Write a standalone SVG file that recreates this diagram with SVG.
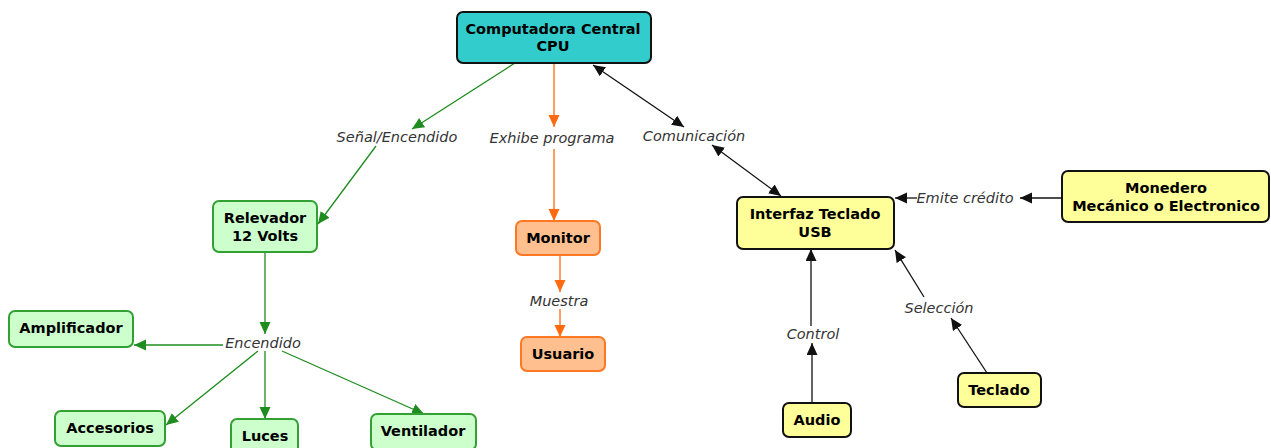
<svg xmlns="http://www.w3.org/2000/svg" width="1271" height="448" viewBox="0 0 1271 448">
<style>
.n{font-family:"DejaVu Sans",Verdana,sans-serif;font-weight:bold;font-size:14.5px;fill:#000;text-anchor:middle}
.l{font-family:"DejaVu Sans",Verdana,sans-serif;font-style:italic;font-size:14.5px;fill:#333;text-anchor:middle}
.cpu{fill:#33CCCC;stroke:#111;stroke-width:2}
.g{fill:#CCFFCC;stroke:#33A033;stroke-width:2}
.o{fill:#FFBF8F;stroke:#FF7722;stroke-width:2}
.y{fill:#FFFF99;stroke:#111;stroke-width:2}
.cg{stroke:#1E8C1E;stroke-width:1.3;fill:none}
.co{stroke:#FF6A10;stroke-width:1.3;fill:none}
.ck{stroke:#111;stroke-width:1.3;fill:none}
</style>
<defs>
<marker id="ag" markerUnits="userSpaceOnUse" markerWidth="13" markerHeight="12" refX="12" refY="5.5" orient="auto"><path d="M0,0 L12,5.5 L0,11 z" fill="#1E8C1E"/></marker>
<marker id="ao" markerUnits="userSpaceOnUse" markerWidth="13" markerHeight="12" refX="12" refY="5.5" orient="auto"><path d="M0,0 L12,5.5 L0,11 z" fill="#FF6A10"/></marker>
<marker id="ak" markerUnits="userSpaceOnUse" markerWidth="13" markerHeight="12" refX="12" refY="5.5" orient="auto"><path d="M0,0 L12,5.5 L0,11 z" fill="#111"/></marker>
<marker id="aks" markerUnits="userSpaceOnUse" markerWidth="13" markerHeight="12" refX="12" refY="5.5" orient="auto-start-reverse"><path d="M0,0 L12,5.5 L0,11 z" fill="#111"/></marker>
</defs>
<rect width="1271" height="448" fill="#fff"/>
<g id="connectors">
<line class="cg" x1="515" y1="63" x2="412" y2="129" marker-end="url(#ag)"/>
<line class="cg" x1="376" y1="146" x2="318" y2="224" marker-end="url(#ag)"/>
<line class="co" x1="554" y1="63" x2="554" y2="127" marker-end="url(#ao)"/>
<line class="co" x1="554" y1="149" x2="554" y2="221" marker-end="url(#ao)"/>
<line class="ck" x1="593" y1="65" x2="684" y2="127" marker-start="url(#aks)" marker-end="url(#aks)"/>
<line class="ck" x1="712" y1="145" x2="781" y2="196" marker-start="url(#aks)" marker-end="url(#aks)"/>
<line class="cg" x1="265" y1="252" x2="265" y2="334" marker-end="url(#ag)"/>
<line class="cg" x1="223" y1="345" x2="134" y2="345" marker-end="url(#ag)"/>
<line class="cg" x1="258" y1="351" x2="166" y2="425" marker-end="url(#ag)"/>
<line class="cg" x1="265" y1="351" x2="265" y2="419" marker-end="url(#ag)"/>
<line class="cg" x1="282" y1="351" x2="424" y2="414" marker-end="url(#ag)"/>
<line class="co" x1="560" y1="255" x2="560" y2="292" marker-end="url(#ao)"/>
<line class="co" x1="560" y1="309" x2="560" y2="337" marker-end="url(#ao)"/>
<line class="ck" x1="1062" y1="198" x2="1020" y2="198" marker-end="url(#ak)"/>
<line class="ck" x1="917" y1="198" x2="895" y2="198" marker-end="url(#ak)"/>
<line class="ck" x1="812" y1="403" x2="812" y2="343" marker-end="url(#ak)"/>
<line class="ck" x1="811" y1="326" x2="811" y2="249" marker-end="url(#ak)"/>
<line class="ck" x1="987" y1="373" x2="951" y2="318" marker-end="url(#ak)"/>
<line class="ck" x1="924" y1="297" x2="895" y2="250" marker-end="url(#ak)"/>
<text class="l" x="397" y="142">Señal/Encendido</text>
<text class="l" x="552" y="143">Exhibe programa</text>
<text class="l" x="694" y="141">Comunicación</text>
<text class="l" x="263" y="348">Encendido</text>
<text class="l" x="559" y="306">Muestra</text>
<text class="l" x="965" y="203">Emite crédito</text>
<text class="l" x="813" y="339">Control</text>
<text class="l" x="939" y="313">Selección</text>
</g>
<g id="cpu"><rect class="cpu" x="457" y="12" width="194" height="51" rx="6"/><text class="n" x="553" y="34">Computadora Central</text><text class="n" x="553" y="51">CPU</text></g>
<g id="relevador"><rect class="g" x="213" y="201" width="104" height="51" rx="6"/><text class="n" x="265" y="223">Relevador</text><text class="n" x="265" y="241">12 Volts</text></g>
<g id="amplificador"><rect class="g" x="9" y="311" width="124" height="36" rx="6"/><text class="n" x="71" y="333">Amplificador</text></g>
<g id="accesorios"><rect class="g" x="55" y="411" width="110" height="35" rx="6"/><text class="n" x="110" y="433">Accesorios</text></g>
<g id="luces"><rect class="g" x="231" y="419" width="67" height="34" rx="6"/><text class="n" x="265" y="441">Luces</text></g>
<g id="ventilador"><rect class="g" x="371" y="414" width="105" height="36" rx="6"/><text class="n" x="423" y="436">Ventilador</text></g>
<g id="monitor"><rect class="o" x="516" y="221" width="84" height="34" rx="6"/><text class="n" x="558" y="243">Monitor</text></g>
<g id="usuario"><rect class="o" x="521" y="337" width="84" height="34" rx="6"/><text class="n" x="563" y="359">Usuario</text></g>
<g id="interfaz"><rect class="y" x="737" y="197" width="157" height="52" rx="6"/><text class="n" x="815" y="219">Interfaz Teclado</text><text class="n" x="815" y="237">USB</text></g>
<g id="monedero"><rect class="y" x="1062" y="171" width="207" height="51" rx="6"/><text class="n" x="1166" y="193">Monedero</text><text class="n" x="1166" y="211">Mecánico o Electronico</text></g>
<g id="audio"><rect class="y" x="783" y="403" width="68" height="34" rx="6"/><text class="n" x="817" y="425">Audio</text></g>
<g id="teclado"><rect class="y" x="958" y="373" width="83" height="34" rx="6"/><text class="n" x="999" y="395">Teclado</text></g>
</svg>
